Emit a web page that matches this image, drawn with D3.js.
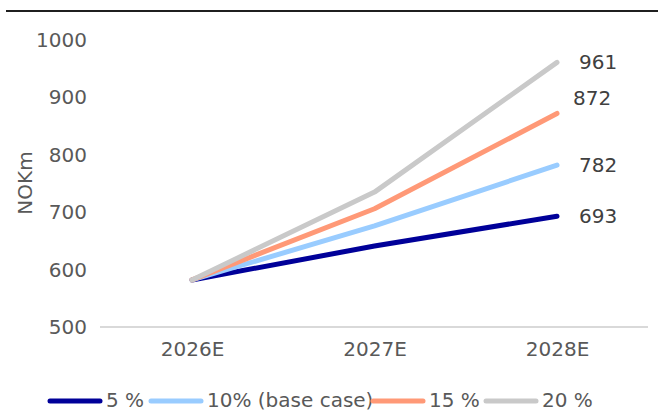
<!DOCTYPE html>
<html><head><meta charset="utf-8">
<script src="https://cdn.jsdelivr.net/npm/d3@7"></script>
<style>body{margin:0;background:#fff}svg{display:block}text{font-family:"DejaVu Sans",sans-serif}</style>
</head><body><svg id="c" width="658" height="412"></svg>
<script>
const categories = ["2026E","2027E","2028E"];
const seriesNames = ["5 %","10% (base case)","15 %","20 %"];
const seriesColors = ["#000099","#99CCFF","#FF9977","#C9C9C9"];
const s5 = [582, 641, 693];
const s10 = [582, 676, 782];
const s15 = [582, 706, 872];
const s20 = [582, 735, 961];
const yTicks = [500,600,700,800,900,1000];
const series = [s5, s10, s15, s20];

const svg = d3.select("#c");
svg.append("line").attr("x1",6).attr("x2",658).attr("y1",11).attr("y2",11).attr("stroke","#1f1f1f").attr("stroke-width",2);

const x = d3.scalePoint().domain(categories).range([192,557]);
const y = d3.scaleLinear().domain([500,1000]).range([327,40]);

svg.append("line").attr("x1",100).attr("x2",648).attr("y1",y(500)).attr("y2",y(500)).attr("stroke","#d9d9d9").attr("stroke-width",2);

const ya = svg.append("g").attr("transform","translate(87,0)").call(d3.axisLeft(y).tickValues(yTicks).tickFormat(d3.format("d")).tickSize(0).tickPadding(0));
ya.select(".domain").remove();
ya.selectAll("text").attr("font-size",20).attr("fill","#595959").attr("font-family","DejaVu Sans");

const xa = svg.append("g").attr("transform","translate(0,341)").call(d3.axisBottom(x).tickSize(0).tickPadding(0));
xa.select(".domain").remove();
xa.selectAll("text").attr("font-size",20).attr("fill","#595959").attr("font-family","DejaVu Sans").attr("dy","0.75em");

svg.append("text").attr("transform","translate(32,183) rotate(-90)").attr("text-anchor","middle")
  .attr("font-size",20).attr("fill","#595959").text("NOKm");

const line = d3.line().x((d,i)=>x(categories[i])).y(d=>y(d));
series.forEach((s,k)=>{
  svg.append("path").attr("d",line(s)).attr("fill","none").attr("stroke",seriesColors[k])
    .attr("stroke-width",5).attr("stroke-linecap","round").attr("stroke-linejoin","round");
});
const labelShift = [[0,0],[0,0],[-6,-15],[0,0]];
series.forEach((s,k)=>{
  const v = s[s.length-1];
  svg.append("text").attr("x",x(categories[2])+22+labelShift[k][0]).attr("y",y(v)+labelShift[k][1])
    .attr("dy","0.35em").attr("font-size",20).attr("fill","#404040").text(v);
});

const legX = [48,149,371,484];
const legY = 400;
seriesNames.forEach((n,k)=>{
  svg.append("line").attr("x1",legX[k]+2).attr("x2",legX[k]+52).attr("y1",legY+1).attr("y2",legY+1)
    .attr("stroke",seriesColors[k]).attr("stroke-width",5).attr("stroke-linecap","round");
  svg.append("text").attr("x",legX[k]+58).attr("y",legY).attr("dy","0.35em").attr("font-size",20)
    .attr("fill","#595959").text(n);
});
</script></body></html>
